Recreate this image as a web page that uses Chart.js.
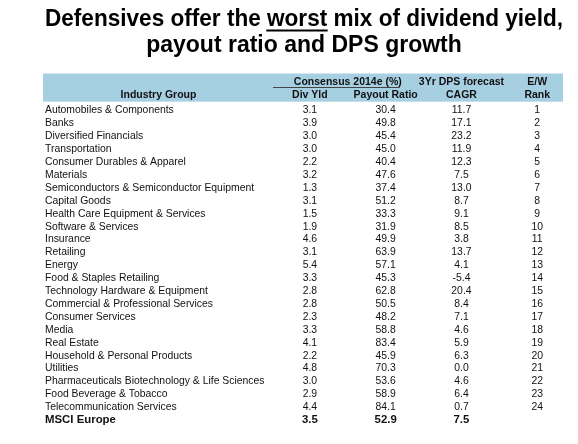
<!DOCTYPE html>
<html>
<head>
<meta charset="utf-8">
<script src="https://cdn.jsdelivr.net/npm/chart.js@4.4.1/dist/chart.umd.min.js"></script>
<style>
    html, body { margin: 0; padding: 0; background: #fff; }
    #wrap { width: 578px; height: 444px; }
</style>
</head>
<body>
<div id="wrap"><canvas id="tableChart" width="578" height="444"></canvas></div>
<script>
const industries = [
    "Automobiles & Components",
    "Banks",
    "Diversified Financials",
    "Transportation",
    "Consumer Durables & Apparel",
    "Materials",
    "Semiconductors & Semiconductor Equipment",
    "Capital Goods",
    "Health Care Equipment & Services",
    "Software & Services",
    "Insurance",
    "Retailing",
    "Energy",
    "Food & Staples Retailing",
    "Technology Hardware & Equipment",
    "Commercial & Professional Services",
    "Consumer Services",
    "Media",
    "Real Estate",
    "Household & Personal Products",
    "Utilities",
    "Pharmaceuticals Biotechnology & Life Sciences",
    "Food Beverage & Tobacco",
    "Telecommunication Services",
    "MSCI Europe"
];

const divYld = [3.1, 3.9, 3.0, 3.0, 2.2, 3.2, 1.3, 3.1, 1.5, 1.9, 4.6, 3.1, 5.4, 3.3, 2.8, 2.8, 2.3, 3.3, 4.1, 2.2, 4.8, 3.0, 2.9, 4.4, 3.5];
const payoutRatio = [30.4, 49.8, 45.4, 45.0, 40.4, 47.6, 37.4, 51.2, 33.3, 31.9, 49.9, 63.9, 57.1, 45.3, 62.8, 50.5, 48.2, 58.8, 83.4, 45.9, 70.3, 53.6, 58.9, 84.1, 52.9];
const dpsCagr = [11.7, 17.1, 23.2, 11.9, 12.3, 7.5, 13.0, 8.7, 9.1, 8.5, 3.8, 13.7, 4.1, -5.4, 20.4, 8.4, 7.1, 4.6, 5.9, 6.3, 0.0, 4.6, 6.4, 0.7, 7.5];
const ewRank = [1, 2, 3, 4, 5, 6, 7, 8, 9, 10, 11, 12, 13, 14, 15, 16, 17, 18, 19, 20, 21, 22, 23, 24, null];

const headTop = ["", "", "3Yr DPS forecast", "E/W"];
const headBottom = ["Div Yld", "Payout Ratio", "CAGR", "Rank"];
const groupHead = "Consensus 2014e (%)";
const rowHead = "Industry Group";
const titleLines = ["Defensives offer the worst mix of dividend yield,", "payout ratio and DPS growth"];

const FONT = "'Liberation Sans', Arial, sans-serif";
const columns = [divYld, payoutRatio, dpsCagr, ewRank];
const decimals = [1, 1, 1, 0];
const totalRow = industries.length - 1;

const datasets = columns.map((vals, ci) => ({
    data: vals
        .map((v, i) => v === null ? null : { x: ci, y: industries[i], label: v.toFixed(decimals[ci]) })
        .filter(d => d !== null),
    pointRadius: 0,
    pointHoverRadius: 0
}));

const tablePlugin = {
    id: "tableText",
    beforeDraw(chart) {
        const { ctx, chartArea } = chart;
        const { x, y } = chart.scales;
        ctx.save();
        ctx.fillStyle = "#a7cfe2";
        ctx.fillRect(y.left - 2, x.top, x.right - y.left + 2, chartArea.top - 2.5 - x.top);
        ctx.restore();
    },
    afterDraw(chart) {
        const { ctx, chartArea } = chart;
        const { x, y } = chart.scales;
        ctx.save();
        ctx.fillStyle = "#111";
        ctx.textAlign = "center";
        ctx.textBaseline = "middle";

        // header texts not on the tick labels
        const row2 = chartArea.top - 9.4;
        const row1 = row2 - 12.5;
        ctx.font = `bold 10.5px ${FONT}`;
        ctx.fillText(rowHead, (y.left + y.right) / 2, row2);
        const gx = (x.getPixelForValue(0) + x.getPixelForValue(1)) / 2;
        ctx.fillText(groupHead, gx, row1);
        ctx.strokeStyle = "#444";
        ctx.lineWidth = 1;
        ctx.beginPath();
        ctx.moveTo(x.left + 1, Math.round(row1 + 5) + 0.5);
        ctx.lineTo(x.getPixelForValue(1) + 14, Math.round(row1 + 5) + 0.5);
        ctx.stroke();

        // cell values
        chart.data.datasets.forEach((ds, di) => {
            const meta = chart.getDatasetMeta(di);
            meta.data.forEach((pt, i) => {
                const d = ds.data[i];
                ctx.font = d.y === industries[totalRow] ? `bold 11.4px ${FONT}` : `10.4px ${FONT}`;
                ctx.fillText(d.label, pt.x, pt.y);
            });
        });

        // underline "worst" in the title
        const tb = chart.titleBlock;
        ctx.font = `bold 23px ${FONT}`;
        const full = ctx.measureText(titleLines[0]).width;
        const pre = ctx.measureText("Defensives offer the ").width;
        const w = ctx.measureText("worst").width;
        const startX = (tb.left + tb.right) / 2 - full / 2 + pre;
        ctx.fillStyle = "#000";
        ctx.fillRect(startX, tb.top + 7 + 13 + 9.5, w, 2);
        ctx.restore();
    }
};

new Chart(document.getElementById("tableChart"), {
    type: "scatter",
    data: { datasets },
    options: {
        responsive: false,
        animation: false,
        events: [],
        layout: { padding: { top: 0, left: 45, right: 15, bottom: 17.35 } },
        plugins: {
            legend: { display: false },
            tooltip: { enabled: false },
            title: {
                display: true,
                text: titleLines,
                color: "#000",
                font: { family: FONT, size: 23, weight: "bold", lineHeight: "26px" },
                padding: { top: 7, bottom: 14.5 }
            }
        },
        scales: {
            x: {
                type: "linear",
                position: "top",
                min: -0.5,
                max: 3.34,
                afterBuildTicks: scale => {
                    scale.ticks = headBottom.map((_, i) => ({ value: i }));
                },
                afterFit: scale => { scale.height = 30.65; },
                grid: { display: false, drawTicks: false },
                border: { display: false },
                ticks: {
                    autoSkip: false,
                    maxRotation: 0,
                    padding: 3.15,
                    color: "#111",
                    font: { family: FONT, size: 10.5, weight: "bold", lineHeight: "12.5px" },
                    callback: (v, i) => [headTop[i], headBottom[i]]
                }
            },
            y: {
                type: "category",
                labels: industries,
                offset: true,
                afterFit: scale => { scale.width = 227; },
                grid: { display: false, drawTicks: false },
                border: { display: false },
                ticks: {
                    autoSkip: false,
                    crossAlign: "far",
                    color: "#111",
                    font: ctx => ctx.index === totalRow
                        ? { family: FONT, size: 11.4, weight: "bold" }
                        : { family: FONT, size: 10.4 }
                }
            }
        }
    },
    plugins: [tablePlugin]
});
</script>
</body>
</html>
